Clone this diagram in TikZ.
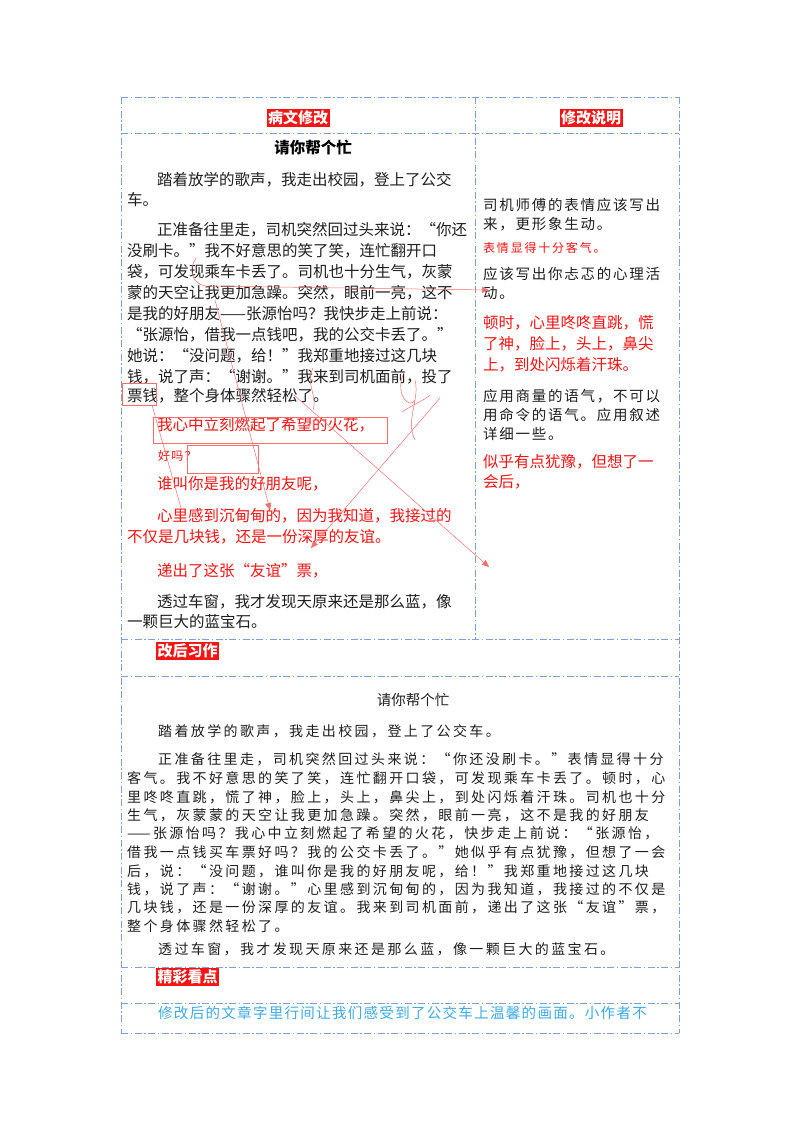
\documentclass[tikz,border=0pt]{standalone}
\usepackage{fontspec}
\setmainfont{Noto Sans CJK SC}
\usetikzlibrary{arrows.meta}
\definecolor{fr}{RGB}{125,160,215}
\definecolor{rd}{RGB}{245,20,20}
\definecolor{tx}{RGB}{30,30,30}
\definecolor{bl}{RGB}{60,170,230}
\definecolor{an}{RGB}{250,110,110}
\tikzset{
 frame/.style={draw=fr,line width=1pt,dash pattern=on 7pt off 2.5pt on 1.5pt off 2.5pt},
 tl/.style={anchor=west,inner sep=0pt,text=tx,font=\fontsize{15.5}{15.5}\selectfont},
 rl/.style={tl,text=rd},
 cl/.style={anchor=west,inner sep=0pt,text=tx,font=\fontsize{14.5}{14.5}\selectfont\addfontfeature{LetterSpace=12}},
 bt/.style={anchor=west,inner sep=0pt,text=tx,font=\fontsize{14}{14}\selectfont\addfontfeature{LetterSpace=17}},
 tag/.style={fill=rd,text=white,inner sep=1.5pt,font=\bfseries\fontsize{15}{15}\selectfont},
 ann/.style={draw=an,line width=0.5pt},
 annar/.style={ann,-{Triangle[length=7pt,width=6pt]},},
}
\begin{document}
\begin{tikzpicture}[x=1pt,y=-1pt]
\useasboundingbox (0,0) rectangle (800,1132);
% frame
\draw[frame] (121,97) -- (679,97);
\draw[frame] (121,133) -- (679,133);
\draw[frame] (121,639) -- (679,639);
\draw[frame] (121,676) -- (679,676);
\draw[frame] (121,967) -- (679,967);
\draw[frame] (121,1003) -- (679,1003);
\draw[frame] (121,1033) -- (679,1033);
\draw[frame] (121,97) -- (121,1033);
\draw[frame] (679,97) -- (679,1033);
\draw[frame] (475,97) -- (475,639);
% headers
\node[tag] (h1) at (298,118) {病文修改};
\node[tag] (h2) at (591,118) {修改说明};
\node[tag,anchor=west] (h3) at (156,651) {改后习作};
\node[tag,anchor=west] (h4) at (156,977) {精彩看点};
% left column
\node[inner sep=0pt,font=\bfseries\fontsize{15.5}{15.5}\selectfont] (t1) at (313,148) {请你帮个忙};
\node[tl] (l1) at (157,180) {踏着放学的歌声，我走出校园，登上了公交};
\node[tl] (l2) at (127,200) {车。};
\node[tl] (l3) at (157,230) {正准备往里走，司机突然回过头来说：“你还};
\node[tl] (l4) at (127,251) {没刷卡。”我不好意思的笑了笑，连忙翻开口};
\node[tl] (l5) at (127,272) {袋，可发现乘车卡丢了。司机也十分生气，灰蒙};
\node[tl] (l6) at (127,293) {蒙的天空让我更加急躁。突然，眼前一亮，这不};
\node[tl] (l7) at (127,314) {是我的好朋友——张源怡吗？我快步走上前说：};
\node[tl] (l8) at (127,335) {“张源怡，借我一点钱吧，我的公交卡丢了。”};
\node[tl] (l9) at (127,356) {她说：“没问题，给！”我郑重地接过这几块};
\node[tl] (l10) at (127,377) {钱，说了声：“谢谢。”我来到司机面前，投了};
\node[tl] (l11) at (127,396) {票钱，整个身体骤然轻松了。};
\node[rl] (r1) at (157,425) {我心中立刻燃起了希望的火花，};
\node[anchor=west,inner sep=0pt,text=rd,font=\fontsize{12}{12}\selectfont\addfontfeature{LetterSpace=10}] (r2) at (158,456) {好吗？};
\node[rl] (r3) at (157,484) {谁叫你是我的好朋友呢，};
\node[rl] (r4) at (157,516) {心里感到沉甸甸的，因为我知道，我接过的};
\node[rl] (r5) at (127,537) {不仅是几块钱，还是一份深厚的友谊。};
\node[rl] (r6) at (157,571) {递出了这张“友谊”票，};
\node[tl] (l12) at (157,602) {透过车窗，我才发现天原来还是那么蓝，像};
\node[tl] (l13) at (127,622) {一颗巨大的蓝宝石。};
% right column
\node[cl] (c1) at (483,205) {司机师傅的表情应该写出};
\node[cl] (c2) at (483,224) {来，更形象生动。};
\node[anchor=west,inner sep=0pt,text=rd,font=\fontsize{12}{12}\selectfont\addfontfeature{LetterSpace=15}] (c3) at (483,248) {表情显得十分客气。};
\node[cl] (c4) at (483,274) {应该写出你忐忑的心理活};
\node[cl] (c5) at (483,293) {动。};
\node[rl] (c6) at (483,323) {顿时，心里咚咚直跳，慌};
\node[rl] (c7) at (483,344) {了神，脸上，头上，鼻尖};
\node[rl] (c8) at (483,365) {上，到处闪烁着汗珠。};
\node[cl] (c9) at (483,396) {应用商量的语气，不可以};
\node[cl] (c10) at (483,415) {用命令的语气。应用叙述};
\node[cl] (c11) at (483,434) {详细一些。};
\node[rl] (c12) at (483,462) {似乎有点犹豫，但想了一};
\node[rl] (c13) at (483,482) {会后，};
% bottom
\node[inner sep=0pt,text=tx,font=\fontsize{14.5}{14.5}\selectfont] (t2) at (413,700) {请你帮个忙};
\node[bt] (b1) at (158,731) {踏着放学的歌声，我走出校园，登上了公交车。};
\node[bt] (b2) at (158,759) {正准备往里走，司机突然回过头来说：“你还没刷卡。”表情显得十分};
\node[bt] (b3) at (127,778) {客气。我不好意思的笑了笑，连忙翻开口袋，可发现乘车卡丢了。顿时，心};
\node[bt] (b4) at (127,797) {里咚咚直跳，慌了神，脸上，头上，鼻尖上，到处闪烁着汗珠。司机也十分};
\node[bt] (b5) at (127,815) {生气，灰蒙蒙的天空让我更加急躁。突然，眼前一亮，这不是我的好朋友};
\node[bt] (b6) at (127,833) {——张源怡吗？我心中立刻燃起了希望的火花，快步走上前说：“张源怡，};
\node[bt] (b7) at (127,852) {借我一点钱买车票好吗？我的公交卡丢了。”她似乎有点犹豫，但想了一会};
\node[bt] (b8) at (127,871) {后，说：“没问题，谁叫你是我的好朋友呢，给！”我郑重地接过这几块};
\node[bt] (b9) at (127,889) {钱，说了声：“谢谢。”心里感到沉甸甸的，因为我知道，我接过的不仅是};
\node[bt] (b10) at (127,907) {几块钱，还是一份深厚的友谊。我来到司机面前，递出了这张“友谊”票，};
\node[bt] (b11) at (127,926) {整个身体骤然轻松了。};
\node[bt] (b12) at (158,949) {透过车窗，我才发现天原来还是那么蓝，像一颗巨大的蓝宝石。};
\node[anchor=west,inner sep=0pt,text=bl,font=\fontsize{14.5}{14.5}\selectfont\addfontfeature{LetterSpace=9}] (b13) at (158,1013) {修改后的文章字里行间让我们感受到了公交车上温馨的画面。小作者不};
% annotations
\coordinate (a1s) at (196,258); \coordinate (a1m) at (205,286); \coordinate (a1e) at (489,290);
\draw[annar] (a1s) .. controls (188,270) and (192,283) .. (a1m) -- (a1e);
\coordinate (a2s) at (294,395); \coordinate (a2e) at (489,567);
\draw[annar] (a2s) -- (a2e);
\coordinate (a3s) at (440,398); \coordinate (a3e) at (311,548);
\draw[annar] (a3s) -- (a3e);
\coordinate (a4s) at (215,300); \coordinate (a4e) at (270,510);
\draw[annar] (a4s) -- (a4e);
\coordinate (a5s) at (152,405); \coordinate (a5e) at (181,508);
\draw[ann] (a5s) -- (a5e);
\draw[ann] (122,383) rectangle (156,405);
\draw[ann] (153,417) rectangle (387,443);
\draw[ann] (187,445) rectangle (258,473);
\draw[ann] (313,368) .. controls (305,385) and (318,395) .. (313,410);
\draw[ann] (403,375) .. controls (395,395) and (410,410) .. (415,400);
\draw[ann] (415,380) .. controls (420,400) and (405,420) .. (415,440);
\draw[ann] (402,412) .. controls (412,405) and (425,400) .. (430,395);
\end{tikzpicture}
\end{document}
